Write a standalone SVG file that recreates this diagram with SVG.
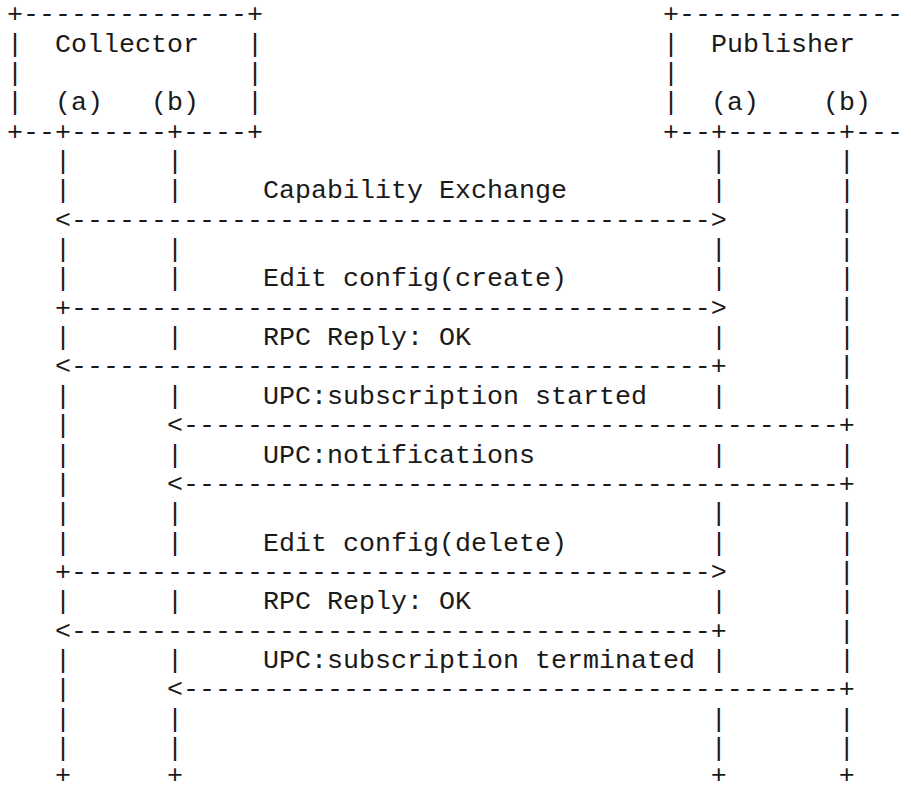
<svg xmlns="http://www.w3.org/2000/svg" width="911" height="785" viewBox="0 0 911 785" xml:space="preserve">
<style>
text { font-family: "Liberation Mono", "Courier New", monospace; font-size: 26.66px; fill: #1a1a1a; white-space: pre; }
</style>
<rect width="911" height="785" fill="#ffffff"/>
<g id="collector">
<text x="7" y="22.25">+--------------+</text>
<text x="7" y="51.6">|  Collector   |</text>
<text x="7" y="80.95">|              |</text>
<text x="7" y="110.3">|  (a)   (b)   |</text>
<text x="7" y="139.65">+--+------+----+</text>
</g>
<g id="publisher">
<text x="663" y="22.25">+--------------</text>
<text x="663" y="51.6">|  Publisher</text>
<text x="663" y="80.95">|</text>
<text x="663" y="110.3">|  (a)    (b)</text>
<text x="663" y="139.65">+--+-------+---</text>
</g>
<g id="connectors">
<text x="55" y="169">|      |                                 |       |</text>
<text x="55" y="198.35">|      |</text><text x="711" y="198.35">|       |</text>
<text x="55" y="227.7">&lt;----------------------------------------&gt;       |</text>
<text x="55" y="257.05">|      |                                 |       |</text>
<text x="55" y="286.4">|      |</text><text x="711" y="286.4">|       |</text>
<text x="55" y="315.75">+----------------------------------------&gt;       |</text>
<text x="55" y="345.1">|      |</text><text x="711" y="345.1">|       |</text>
<text x="55" y="374.45">&lt;----------------------------------------+       |</text>
<text x="55" y="403.8">|      |</text><text x="711" y="403.8">|       |</text>
<text x="55" y="433.15">|      &lt;-----------------------------------------+</text>
<text x="55" y="462.5">|      |</text><text x="711" y="462.5">|       |</text>
<text x="55" y="491.85">|      &lt;-----------------------------------------+</text>
<text x="55" y="521.2">|      |                                 |       |</text>
<text x="55" y="550.55">|      |</text><text x="711" y="550.55">|       |</text>
<text x="55" y="579.9">+----------------------------------------&gt;       |</text>
<text x="55" y="609.25">|      |</text><text x="711" y="609.25">|       |</text>
<text x="55" y="638.6">&lt;----------------------------------------+       |</text>
<text x="55" y="667.95">|      |</text><text x="711" y="667.95">|       |</text>
<text x="55" y="697.3">|      &lt;-----------------------------------------+</text>
<text x="55" y="726.65">|      |                                 |       |</text>
<text x="55" y="756">|      |                                 |       |</text>
<text x="55" y="783">+      +                                 +       +</text>
</g>
<g id="labels">
<text x="263" y="198.35">Capability Exchange</text>
<text x="263" y="286.4">Edit config(create)</text>
<text x="263" y="345.1">RPC Reply: OK</text>
<text x="263" y="403.8">UPC:subscription started</text>
<text x="263" y="462.5">UPC:notifications</text>
<text x="263" y="550.55">Edit config(delete)</text>
<text x="263" y="609.25">RPC Reply: OK</text>
<text x="263" y="667.95">UPC:subscription terminated</text>
</g>
</svg>
